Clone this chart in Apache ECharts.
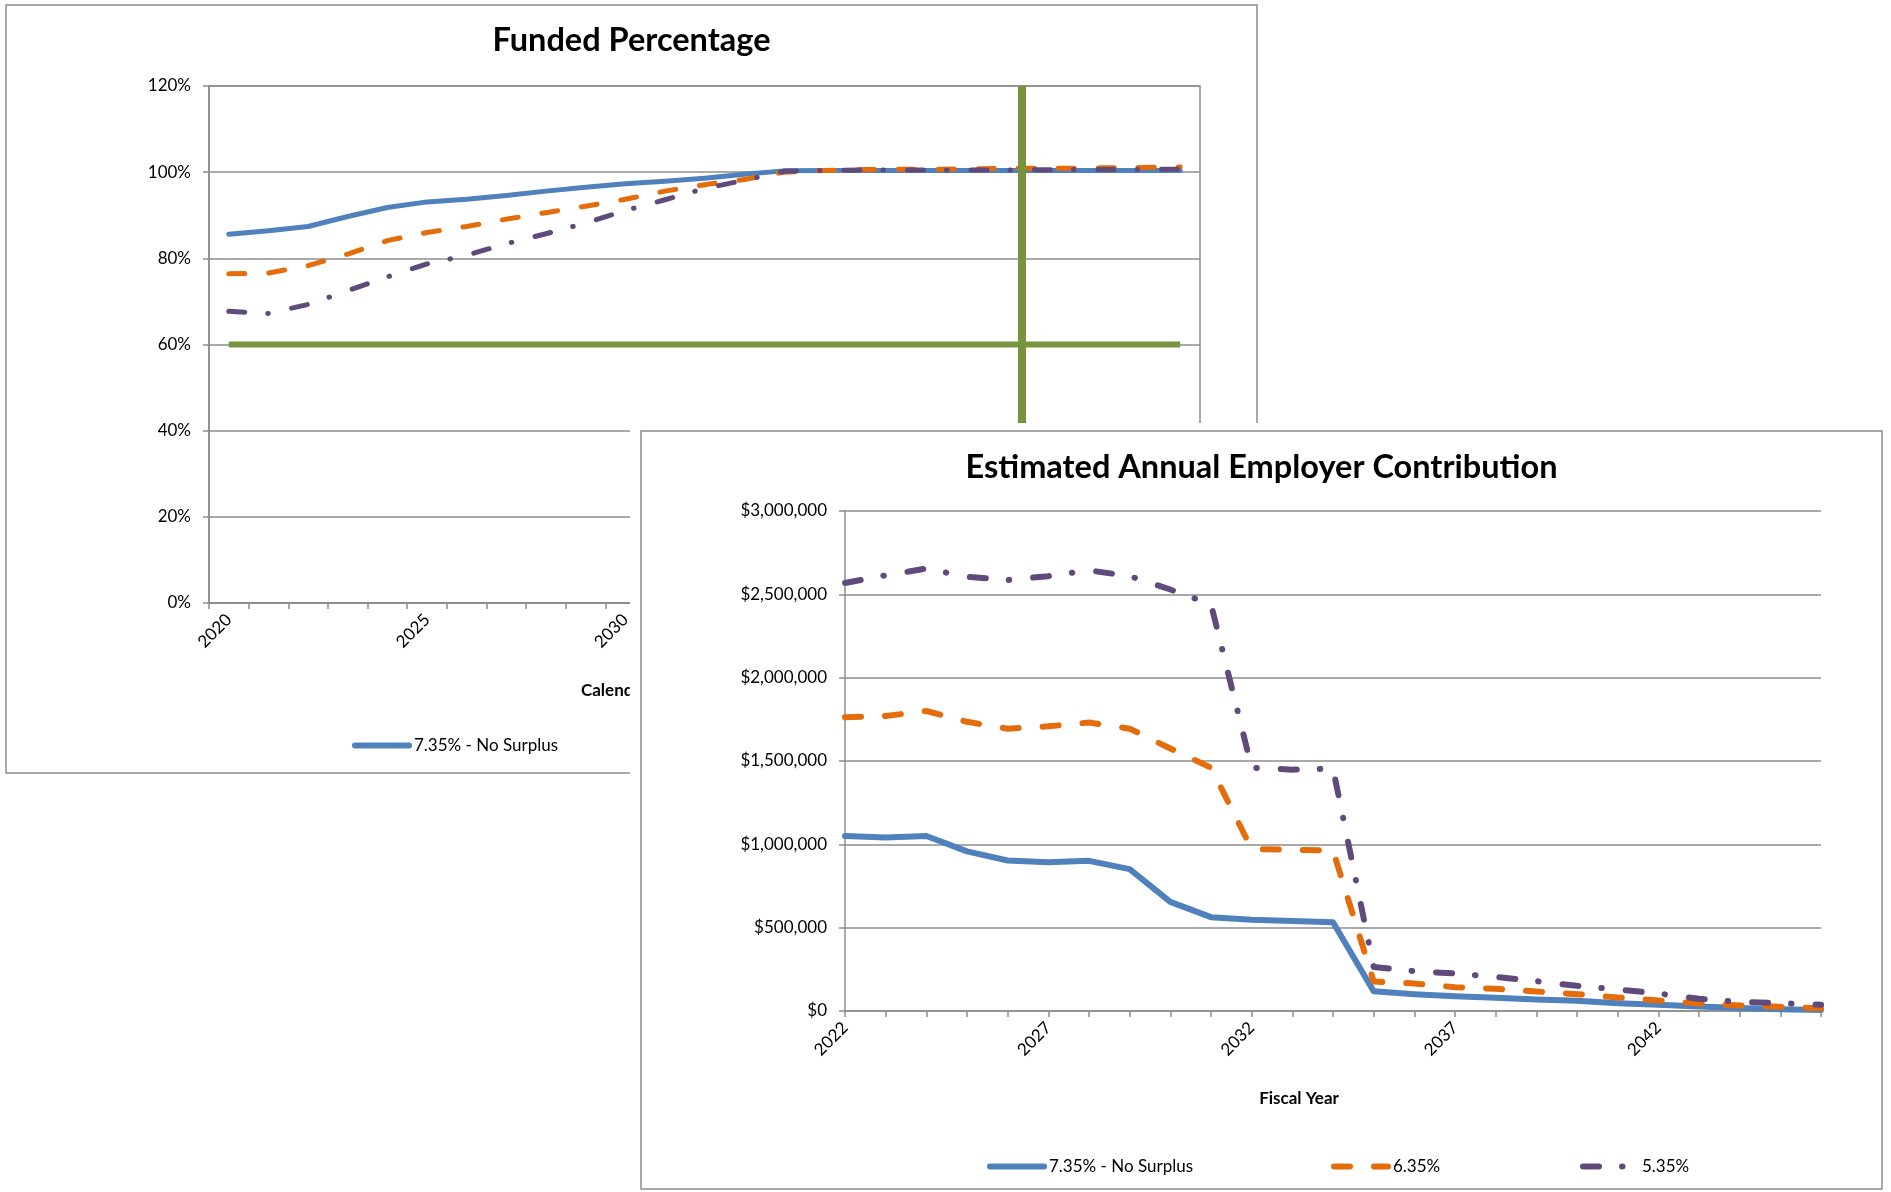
<!DOCTYPE html>
<html>
<head>
<meta charset="utf-8">
<title>Funded Percentage / Estimated Annual Employer Contribution</title>
<script src="https://cdn.jsdelivr.net/npm/echarts@6/dist/echarts.min.js"></script>
<style>
  html, body { margin: 0; padding: 0; background: #fff; width: 1891px; height: 1192px; overflow: hidden; }
  #funded  { position: absolute; left: 0;     top: 0;     width: 1263px; height: 779px; }
  #contrib { position: absolute; left: 630px; top: 423px; width: 1261px; height: 769px; background: #fff; }
</style>
</head>
<body>
<div id="funded"></div>
<div id="contrib"></div>
<script>
// ---- data ----------------------------------------------------------------
const seriesNames = ['7.35% - No Surplus', '6.35%', '5.35%'];

// Funded percentage by calendar year
const fundedYears = ['2020','2021','2022','2023','2024','2025','2026','2027','2028','2029',
                     '2030','2031','2032','2033','2034','2035','2036','2037','2038','2039',
                     '2040','2041','2042','2043','2044'];
const funded735 = [85.6, 86.4, 87.4, 89.7, 91.8, 93.1, 93.7, 94.6, 95.6, 96.5,
                   97.3, 97.9, 98.6, 99.5, 100.3, 100.4, 100.4, 100.4, 100.4, 100.4,
                   100.4, 100.4, 100.4, 100.4, 100.4];
const funded635 = [76.4, 76.6, 78.3, 81.0, 84.1, 86.0, 87.4, 89.1, 90.6, 92.1,
                   93.7, 95.6, 97.1, 98.3, 100.0, 100.4, 100.6, 100.7, 100.7, 100.8,
                   100.9, 100.9, 101.0, 101.1, 101.2];
const funded535 = [67.7, 67.2, 69.3, 72.5, 75.7, 78.7, 80.7, 83.4, 85.7, 88.2,
                   91.1, 93.6, 96.2, 98.1, 100.2, 100.4, 100.5, 100.5, 100.5, 100.5,
                   100.5, 100.6, 100.6, 100.6, 100.7];
const fundedFloor = [60, 60, 60, 60, 60, 60, 60, 60, 60, 60,
                     60, 60, 60, 60, 60, 60, 60, 60, 60, 60,
                     60, 60, 60, 60, 60];
const fundedMarkerYear = '2040';

// Employer contribution by fiscal year
const fiscalYears = ['2022','2023','2024','2025','2026','2027','2028','2029','2030','2031',
                     '2032','2033','2034','2035','2036','2037','2038','2039','2040','2041',
                     '2042','2043','2044','2045','2046'];
const contrib735 = [1050000, 1041000, 1050000, 958000, 903000, 892000, 901000, 851000, 655000, 563000,
                    547000, 540000, 533000, 118000, 101000, 89000, 79000, 69000, 61000, 47000,
                    37000, 27000, 18000, 11000, 6000];
const contrib635 = [1763000, 1770000, 1800000, 1735000, 1694000, 1708000, 1731000, 1694000, 1575000, 1460000,
                    972000, 968000, 963000, 177000, 165000, 143000, 133000, 117000, 101000, 81000,
                    63000, 45000, 33000, 25000, 15000];
const contrib535 = [2568000, 2614000, 2655000, 2605000, 2586000, 2609000, 2644000, 2609000, 2529000, 2440000,
                    1460000, 1448000, 1455000, 264000, 239000, 225000, 205000, 179000, 151000, 129000,
                    105000, 73000, 55000, 47000, 37000];

// ---- styling -------------------------------------------------------------
const FONT = 'Lato, "Open Sans", sans-serif';
const BLUE = '#4F81BD', ORANGE = '#E46C0A', PURPLE = '#604A7B', GREEN = '#77933C';
const GRID_GREY = '#8c8c8c';
const DASH = [16, 24];
const DASH_DOT = [16, 23, 0.5, 24];

function lineSeries(name, data, color, width, type) {
  return {
    name, type: 'line', data, symbol: 'none', z: 2, silent: true,
    lineStyle: { color, width, type, cap: 'round', join: 'round' },
    itemStyle: { color }
  };
}

// one legend per series so each sample sits at its own fixed position
function legends(lefts, top) {
  return seriesNames.map((n, i) => ({
    data: [n], left: lefts[i], top, padding: 0, itemGap: 0,
    itemWidth: 54, itemHeight: 14, selectedMode: false,
    itemStyle: { opacity: 0 },
    lineStyle: { width: 6 },
    textStyle: { fontFamily: FONT, fontSize: 17, color: '#000' }
  }));
}

const axisLabelStyle = { fontFamily: FONT, fontSize: 17, color: '#000' };
const greyLine = { lineStyle: { color: GRID_GREY, width: 1.5 } };

// ---- Funded Percentage ---------------------------------------------------
const fundedChart = echarts.init(document.getElementById('funded'), null, { renderer: 'canvas' });
fundedChart.setOption({
  animation: false,
  backgroundColor: '#fff',
  grid: { left: 209, top: 86, width: 991, height: 517, show: true, borderColor: GRID_GREY, borderWidth: 1.5, backgroundColor: 'transparent' },
  xAxis: {
    type: 'category', data: fundedYears, boundaryGap: true,
    axisLine: greyLine,
    axisTick: { show: true, interval: 0, length: 6, lineStyle: { color: GRID_GREY, width: 1.5 } },
    axisLabel: Object.assign({ interval: 4, rotate: 45, margin: 14 }, axisLabelStyle)
  },
  yAxis: {
    type: 'value', min: 0, max: 120, interval: 20,
    axisLine: { show: true, lineStyle: { color: GRID_GREY, width: 1.5 } },
    axisTick: { show: true, length: 6, lineStyle: { color: GRID_GREY, width: 1.5 } },
    splitLine: greyLine,
    axisLabel: Object.assign({ margin: 18, formatter: '{value}%' }, axisLabelStyle)
  },
  legend: legends([352, 696, 944], 737),
  graphic: [
    { type: 'rect', z: -10, shape: { x: 6, y: 5, width: 1251, height: 768 },
      style: { fill: 'none', stroke: '#8c8c8c', lineWidth: 1.5 } },
    { type: 'text', x: 631.5, y: 41, style: { text: 'Funded Percentage', fontFamily: FONT, fontWeight: 'bold', fontSize: 32.5,
      fill: '#000', textAlign: 'center', textVerticalAlign: 'middle' } },
    { type: 'text', x: 581, y: 691, style: { text: 'Calendar Year', fontFamily: FONT, fontWeight: 'bold', fontSize: 17,
      fill: '#000', textAlign: 'left', textVerticalAlign: 'middle' } }
  ],
  series: [
    lineSeries(seriesNames[0], funded735, BLUE, 5, 'solid'),
    lineSeries(seriesNames[1], funded635, ORANGE, 5, DASH),
    lineSeries(seriesNames[2], funded535, PURPLE, 5, DASH_DOT),
    {
      name: 'floor', type: 'line', data: fundedFloor, symbol: 'none', z: 3, silent: true,
      lineStyle: { color: GREEN, width: 6 },
      markLine: {
        silent: true, symbol: 'none', label: { show: false },
        lineStyle: { color: GREEN, width: 8, type: 'solid' },
        data: [{ xAxis: fundedMarkerYear }]
      }
    }
  ]
});

// ---- Estimated Annual Employer Contribution ------------------------------
const contribChart = echarts.init(document.getElementById('contrib'), null, { renderer: 'canvas' });
contribChart.setOption({
  animation: false,
  backgroundColor: '#fff',
  grid: { left: 215, top: 88, width: 976, height: 500 },
  xAxis: {
    type: 'category', data: fiscalYears, boundaryGap: false,
    axisLine: greyLine,
    axisTick: { show: true, interval: 0, length: 6, lineStyle: { color: GRID_GREY, width: 1.5 } },
    axisLabel: Object.assign({ interval: 4, rotate: 45, margin: 14 }, axisLabelStyle)
  },
  yAxis: {
    type: 'value', min: 0, max: 3000000, interval: 500000,
    axisLine: { show: true, lineStyle: { color: GRID_GREY, width: 1.5 } },
    axisTick: { show: true, length: 6, lineStyle: { color: GRID_GREY, width: 1.5 } },
    splitLine: greyLine,
    axisLabel: Object.assign({ margin: 18, formatter: v => '$' + v.toLocaleString('en-US') }, axisLabelStyle)
  },
  legend: legends([357, 701, 950], 735),
  graphic: [
    { type: 'rect', z: -10, shape: { x: 11, y: 8, width: 1241, height: 758 },
      style: { fill: 'none', stroke: '#8c8c8c', lineWidth: 1.5 } },
    { type: 'text', x: 631.5, y: 44.5, style: { text: 'Estimated Annual Employer Contribution', fontFamily: FONT, fontWeight: 'bold', fontSize: 32.5,
      fill: '#000', textAlign: 'center', textVerticalAlign: 'middle' } },
    { type: 'text', x: 669, y: 675.5, style: { text: 'Fiscal Year', fontFamily: FONT, fontWeight: 'bold', fontSize: 17,
      fill: '#000', textAlign: 'center', textVerticalAlign: 'middle' } }
  ],
  series: [
    lineSeries(seriesNames[0], contrib735, BLUE, 6, 'solid'),
    lineSeries(seriesNames[1], contrib635, ORANGE, 6, DASH),
    lineSeries(seriesNames[2], contrib535, PURPLE, 6, DASH_DOT)
  ]
});
</script>
</body>
</html>
